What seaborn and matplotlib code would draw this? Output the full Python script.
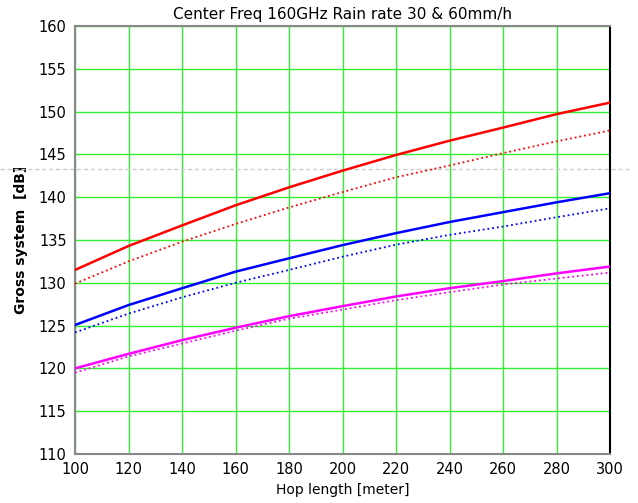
import numpy as np
import pandas as pd
import matplotlib
matplotlib.use("Agg")
import matplotlib.pyplot as plt
import seaborn as sns

# hop length [m]
hop = [100, 120, 140, 160, 180, 200, 220, 240, 260, 280, 300]

# gross system values [dB]
red_solid = [131.5, 134.3, 136.7, 139.05, 141.15, 143.1, 144.93, 146.6, 148.13, 149.7, 151.05]
red_dot = [129.9, 132.5, 134.8, 136.87, 138.8, 140.6, 142.33, 143.7, 145.15, 146.52, 147.8]
blue_solid = [125.07, 127.4, 129.36, 131.3, 132.86, 134.4, 135.8, 137.1, 138.25, 139.4, 140.47]
blue_dot = [124.2, 126.4, 128.3, 130.0, 131.5, 133.05, 134.45, 135.6, 136.57, 137.66, 138.7]
mag_solid = [120.0, 121.7, 123.3, 124.75, 126.1, 127.27, 128.4, 129.37, 130.2, 131.1, 131.9]
mag_dot = [119.5, 121.4, 122.9, 124.4, 125.8, 126.87, 127.97, 128.9, 129.8, 130.5, 131.2]

ref_level = 143.26

series = [
    (red_solid, "#ff0000", "-", 1.8),
    (red_dot, "#ff0000", ":", 1.3),
    (blue_solid, "#0000ff", "-", 1.8),
    (blue_dot, "#0000ff", ":", 1.3),
    (mag_solid, "#ff00ff", "-", 1.8),
    (mag_dot, "#ff00ff", ":", 1.3),
]

sns.set_style("white")
plt.rcParams["font.family"] = ["DejaVu Sans"]
plt.rcParams["text.color"] = "black"
plt.rcParams["axes.labelcolor"] = "black"

fig = plt.figure(figsize=(6.38, 5.03), dpi=100)
ax = fig.add_axes([75 / 638, 1 - 454 / 503, 535 / 638, 428 / 503])

for vals, col, ls, lw in series:
    df = pd.DataFrame({"hop": hop, "val": vals})
    sns.lineplot(data=df, x="hop", y="val", color=col, linestyle=ls, linewidth=lw, ax=ax, zorder=3)

ax.set_xlim(100, 300)
ax.set_ylim(110, 160)
ax.set_xticks(np.arange(100, 301, 20))
ax.set_yticks(np.arange(110, 161, 5))
ax.grid(True, color="#33ee33", linewidth=1.0)
ax.tick_params(length=0, labelsize=10.5, pad=6, labelcolor="black")

for side in ["left", "bottom", "top"]:
    ax.spines[side].set_color("#888888")
    ax.spines[side].set_linewidth(1.5)
ax.spines["right"].set_color("#000000")
ax.spines["right"].set_linewidth(1.5)

# gray dashed reference line running across the whole figure
ax.axhline(ref_level, xmin=-0.14, xmax=1.037, color="#cccccc", linestyle=(0, (3, 2)),
           linewidth=1.0, clip_on=False, zorder=2)

ax.set_title("Center Freq 160GHz Rain rate 30 & 60mm/h", fontsize=11, pad=5, color="black")
ax.set_xlabel("Hop length [meter]", fontsize=10, labelpad=4)
ax.set_ylabel("Gross system  [dB]", fontsize=10, fontweight="bold", labelpad=8)

fig.savefig("out.png", dpi=100)
